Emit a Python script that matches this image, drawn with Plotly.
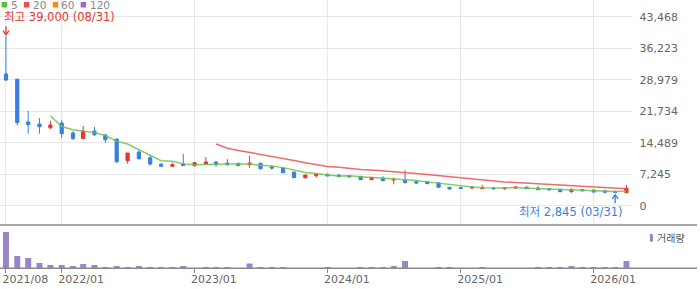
import plotly.graph_objects as go
import pandas as pd

# ---------------- data ----------------
months = [
    "2021-08-01", "2021-09-01", "2021-10-01", "2021-11-01", "2021-12-01",
    "2022-01-01", "2022-02-01", "2022-03-01", "2022-04-01", "2022-05-01", "2022-06-01",
    "2022-07-01", "2022-08-01", "2022-09-01", "2022-10-01", "2022-11-01", "2022-12-01",
    "2023-01-01", "2023-02-01", "2023-03-01", "2023-04-01", "2023-05-01", "2023-06-01",
    "2023-07-01", "2023-08-01", "2023-09-01", "2023-10-01", "2023-11-01", "2023-12-01",
    "2024-01-01", "2024-02-01", "2024-03-01", "2024-04-01", "2024-05-01", "2024-06-01",
    "2024-07-01", "2024-08-01", "2024-09-01", "2024-10-01", "2024-11-01", "2024-12-01",
    "2025-01-01", "2025-02-01", "2025-03-01", "2025-04-01", "2025-05-01", "2025-06-01",
    "2025-07-01", "2025-08-01", "2025-09-01", "2025-10-01", "2025-11-01", "2025-12-01",
    "2026-01-01", "2026-02-01", "2026-03-01", "2026-04-01",
]
open_ = [30290, 29100, 19250, 18790, 17940, 19020, 16720, 15410, 17180, 16260, 15340,
         10350, 12350, 11040, 9520, 9060, 9590, 9200, 9590, 10050, 9820, 9750, 9430,
         9750, 8900, 8670, 7750, 6440, 6900, 7220, 7060, 6900, 6760, 5980, 6370,
         5910, 5910, 5520, 5520, 5290, 4230, 4140, 4070, 3910, 4070, 3910, 4070,
         4300, 4070, 3910, 3770, 3220, 3680, 3610, 3450, 3310, 2990]
high = [39000, 29100, 21850, 20170, 19550, 19710, 17110, 18330, 18100, 16490, 15340,
        12120, 12740, 11500, 9820, 9890, 11960, 10050, 11200, 10210, 10740, 9890, 11430,
        9890, 9360, 8900, 7750, 7060, 7290, 7360, 7220, 7060, 6830, 6600, 6760,
        6440, 8210, 5750, 5600, 5370, 4300, 4370, 4300, 4760, 4300, 4070, 4300,
        4300, 4530, 4070, 3840, 4000, 3840, 3720, 3610, 3450, 4760]
low = [28660, 18400, 16560, 16560, 17640, 15640, 15110, 15410, 16030, 14490, 9820,
       9660, 10580, 9200, 9060, 9060, 9200, 9060, 9590, 8970, 9200, 9200, 8740,
       8280, 8280, 7590, 6440, 6210, 6440, 6830, 6520, 6600, 5980, 5980, 5750,
       4920, 5150, 5060, 5060, 4230, 3840, 3840, 3840, 3910, 3680, 3680, 3910,
       3910, 3680, 3450, 3220, 2990, 3300, 2990, 2990, 2845, 2990]
close = [28900, 19100, 18630, 18170, 18560, 16560, 15410, 17180, 16330, 15180, 10120,
         12120, 10810, 9590, 9060, 9430, 9200, 9890, 10050, 9430, 9430, 9200, 9820,
         8510, 8670, 7590, 6440, 7060, 7290, 6830, 6670, 6600, 5980, 6530, 5750,
         6070, 5290, 5220, 5060, 4230, 3840, 4000, 4300, 4140, 3910, 4070, 4300,
         3910, 3680, 3680, 3220, 3680, 3450, 3150, 3080, 3080, 4000]
volume = [3630, 1230, 1030, 530, 330, 330, 230, 430, 330, 130,
          230, 130, 230, 130, 130, 130, 230, 20, 130, 130,
          130, 20, 470, 130, 130, 130, 20, 20, 20, 130,
          20, 20, 130, 130, 130, 230, 730, 20, 20, 130,
          130, 20, 20, 130, 20, 20, 20, 20, 130, 130,
          130, 230, 130, 130, 130, 130, 730]

y_tickvals = [0, 7245, 14489, 21734, 28979, 36223, 43468]
y_ticktext = ["0", "7,245", "14,489", "21,734", "28,979", "36,223", "43,468"]
x_tickvals = ["2021-08-01", "2022-01-01", "2023-01-01", "2024-01-01", "2025-01-01", "2026-01-01"]
x_ticktext = ["2021/08", "2022/01", "2023/01", "2024/01", "2025/01", "2026/01"]

high_label = "최고 39,000 (08/31)"
low_label = "최저 2,845 (03/31)"
high_date, high_val = "2021-08-01", 39000
low_date, low_val = "2026-03-01", 2845

# ---------------- derived ----------------
ma5 = pd.Series(close).rolling(5).mean()
ma20 = pd.Series(close).rolling(20).mean()

W, H = 700, 289
def py(px):
    return 1 - px / H

RED = "#e8352c"
BLUE = "#3a7ee0"
FONT = "DejaVu Sans, Noto Sans CJK KR"
XR = ["2021-07-15 14:00", "2026-04-17"]

fig = go.Figure()

fig.add_trace(go.Candlestick(
    x=months, open=open_, high=high, low=low, close=close,
    increasing=dict(line=dict(color=RED, width=1), fillcolor=RED),
    decreasing=dict(line=dict(color=BLUE, width=1), fillcolor=BLUE),
    whiskerwidth=0, xaxis="x", yaxis="y", hoverinfo="skip",
))
fig.add_trace(go.Scatter(x=months, y=ma20, mode="lines",
                         line=dict(color="rgba(236,80,80,0.85)", width=1.5),
                         xaxis="x", yaxis="y", hoverinfo="skip"))
fig.add_trace(go.Scatter(x=months, y=ma5, mode="lines",
                         line=dict(color="rgba(110,195,80,0.85)", width=1.5),
                         xaxis="x", yaxis="y", hoverinfo="skip"))
fig.add_trace(go.Bar(x=months, y=volume, marker=dict(color="#9a86c6", line=dict(width=0)),
                     width=16.4 * 86400000, xaxis="x2", yaxis="y2", hoverinfo="skip"))

xdom = [0, 635 / W]
fig.update_layout(
    width=W, height=H, margin=dict(l=0, r=0, t=0, b=0),
    paper_bgcolor="white", plot_bgcolor="white", showlegend=False,
    boxgap=0.55,
    xaxis=dict(domain=xdom, type="date", range=XR, anchor="y",
               tickvals=x_tickvals, showticklabels=False, showgrid=True,
               gridcolor="#e8e8e8", gridwidth=1, zeroline=False, showline=False,
               rangeslider=dict(visible=False), ticks=""),
    yaxis=dict(domain=[py(225), 1], range=[-4439, 47311], side="right", anchor="x",
               tickvals=y_tickvals, ticktext=y_ticktext, showgrid=True,
               gridcolor="#e8e8e8", gridwidth=1, zeroline=False, showline=False,
               ticks="outside", ticklen=4, tickcolor="rgba(0,0,0,0)",
               tickfont=dict(family=FONT, size=11, color="#666")),
    xaxis2=dict(domain=xdom, type="date", range=XR, anchor="y2",
                tickvals=x_tickvals, ticktext=x_ticktext, showgrid=False,
                zeroline=False, showline=False, ticks="outside", ticklen=4,
                tickcolor="#888", tickwidth=1,
                ticklabelposition="outside right", ticklabelshift=-4,
                tickfont=dict(family=FONT, size=11, color="#666")),
    yaxis2=dict(domain=[py(268.3), py(225)], range=[0, 4330], visible=False, anchor="x2"),
)

shapes = [
    dict(type="line", xref="paper", yref="paper", x0=0, x1=1, y0=py(225), y1=py(225),
         line=dict(color="#8a8a8a", width=1.5)),
    dict(type="line", xref="paper", yref="paper", x0=0, x1=1, y0=py(268.3), y1=py(268.3),
         line=dict(color="#8a8a8a", width=1.5)),
]
legend_items = [("5", "#5cbf3c", 1.7, 10), ("20", "#f04b4b", 24, 32),
                ("60", "#f58a1f", 53, 60), ("120", "#a066d3", 81, 89)]
annotations = []
for label, col, sx, tx in legend_items:
    shapes.append(dict(type="rect", xref="paper", yref="paper",
                       x0=sx / W, x1=(sx + 5.5) / W, y0=py(7.5), y1=py(2),
                       fillcolor=col, line=dict(width=0)))
    annotations.append(dict(xref="paper", yref="paper", x=tx / W, y=py(5.2),
                            xanchor="left", yanchor="middle", showarrow=False, text=label,
                            borderpad=0,
                            font=dict(family=FONT, size=10.5, color="#888")))
# volume legend
shapes.append(dict(type="rect", xref="paper", yref="paper",
                   x0=652.7 / W, x1=655.7 / W, y0=py(241.7), y1=py(234),
                   fillcolor="#9a86c6", line=dict(width=0)))
annotations.append(dict(xref="paper", yref="paper", x=657.5 / W, y=py(238),
                        xanchor="left", yanchor="middle", showarrow=False, text="거래량",
                        font=dict(family=FONT, size=10, color="#555")))
# high / low labels
annotations += [
    dict(xref="x", yref="y", x=high_date, y=high_val, text=high_label, showarrow=False,
         xanchor="left", yanchor="middle", xshift=-3, yshift=19, borderpad=0,
         font=dict(family=FONT, size=11.5, color=RED)),
    dict(xref="x", yref="y", x=low_date, y=low_val, text=low_label, showarrow=False,
         xanchor="right", yanchor="middle", xshift=9, yshift=-19, borderpad=0,
         font=dict(family=FONT, size=11.5, color=BLUE)),
]
# high / low arrows (pixel-sized shapes anchored at the extreme points)
for d, v, sgn, col in [(high_date, high_val, 1, RED), (low_date, low_val, -1, BLUE)]:
    shapes.append(dict(type="line", xref="x", yref="y", xsizemode="pixel", ysizemode="pixel",
                       xanchor=d, yanchor=v, x0=0, x1=0, y0=sgn * 1.5, y1=sgn * 10,
                       line=dict(color=col, width=1.3)))
    shapes.append(dict(type="path", xref="x", yref="y", xsizemode="pixel", ysizemode="pixel",
                       xanchor=d, yanchor=v,
                       path=f"M-3,{sgn * 5.5} L0,{sgn * 1.5} L3,{sgn * 5.5}",
                       line=dict(color=col, width=1.3)))
fig.update_layout(shapes=shapes, annotations=annotations)

fig.write_html("out.html")
